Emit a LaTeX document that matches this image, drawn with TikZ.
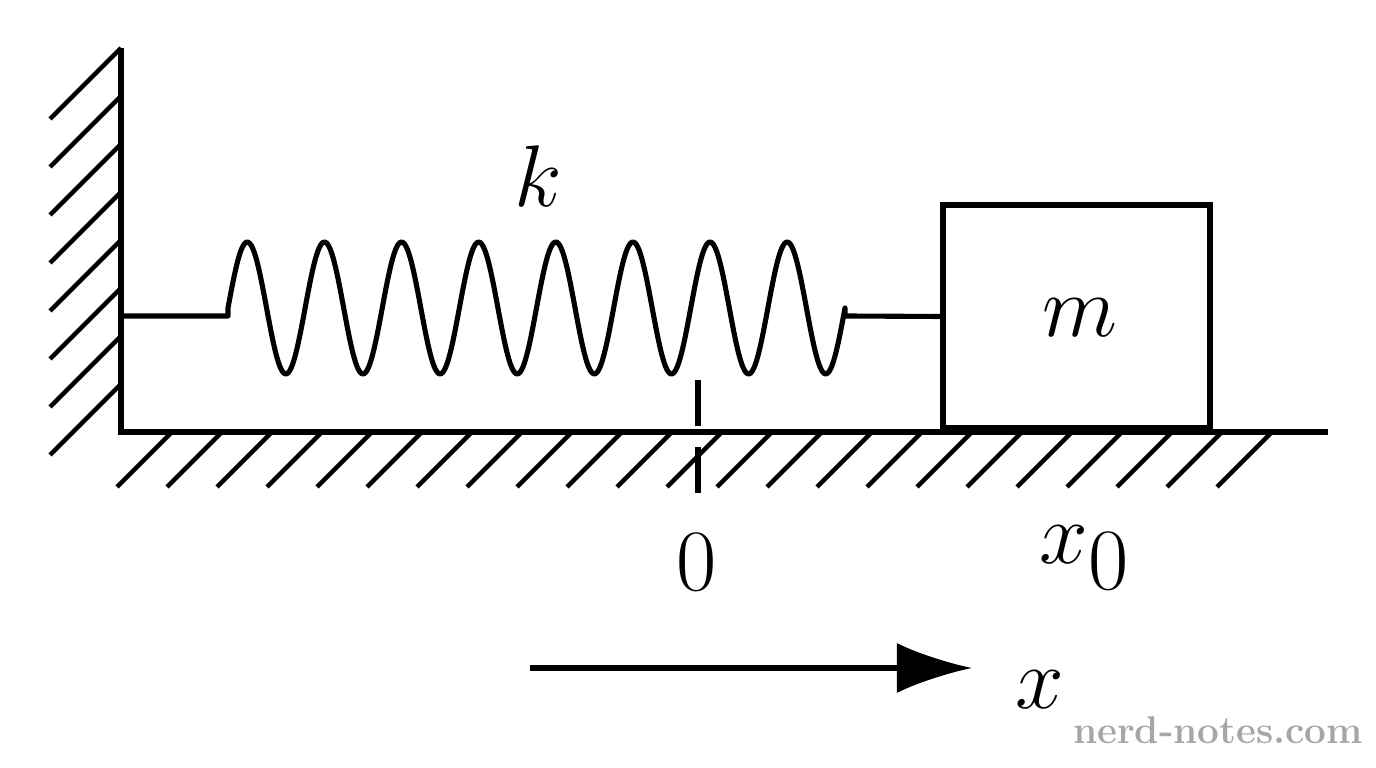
\documentclass[tikz,border=0pt]{standalone}
\usepackage{amsmath}
\usetikzlibrary{arrows.meta}
\usetikzlibrary{positioning}
\begin{document}
\begin{tikzpicture}
  [
    x=0.01cm,y=-0.01cm,
    every path/.style={line width=1.45pt},
    hatch/.style={line width=1.3pt},
    lbl/.style={font=\fontsize{37}{42}\selectfont},
    mass/.style={draw,minimum width=2.67cm,minimum height=2.23cm,line width=1.6pt}
  ]
    \useasboundingbox (0,0) rectangle (1376,768);
    % wall and floor
    \coordinate (wt) at (121,48);
    \coordinate (wb) at (121,432);
    \coordinate (fe) at (1328,432);
    \draw (wt) -- (wb) -- (fe);
    \foreach \y in {48,96,...,390}
      \draw [hatch] (121,\y) -- ++(-71,71);
    \foreach \x in {172,222,...,1290}
      \draw [hatch] (\x,432) -- ++(-55,55);
    % mass
    \node [mass] (m) at (1076.5,316.5) {};
    \node [lbl] (mlab) at (1080,318) {$m$};
    % spring
    \coordinate (sl) at (121,316);
    \coordinate (s0) at (228,316);
    \coordinate (s1) at (845,316);
    \draw [line join=round] (sl) -- (s0)
      -- plot [domain=0:8,samples=400,smooth] ({228+77.125*\x},{308-66*sin(360*\x)})
      -- (s1) -- (m.west);
    \node [lbl] (k) at (538,176) {$k$};
    % origin
    \draw [line width=1.5pt,dash pattern=on 13pt off 6pt] (698,380) -- (698,495);
    \node [lbl] (zero) at (697,562) {$0$};
    \node [lbl] (x0) at (1085,558) {$x_0$};
    % axis
    \coordinate (ax0) at (530,668);
    \coordinate (ax1) at (972,668);
    \draw [-{Latex[length=0.75cm,width=0.5cm]}] (ax0) -- (ax1);
    \node [lbl] (xlab) at (1040,690) {$x$};
    \node [text=black!35,font=\bfseries\fontsize{11}{14}\selectfont] (wm) at (1218,730) {nerd-notes.com};
\end{tikzpicture}
\end{document}
